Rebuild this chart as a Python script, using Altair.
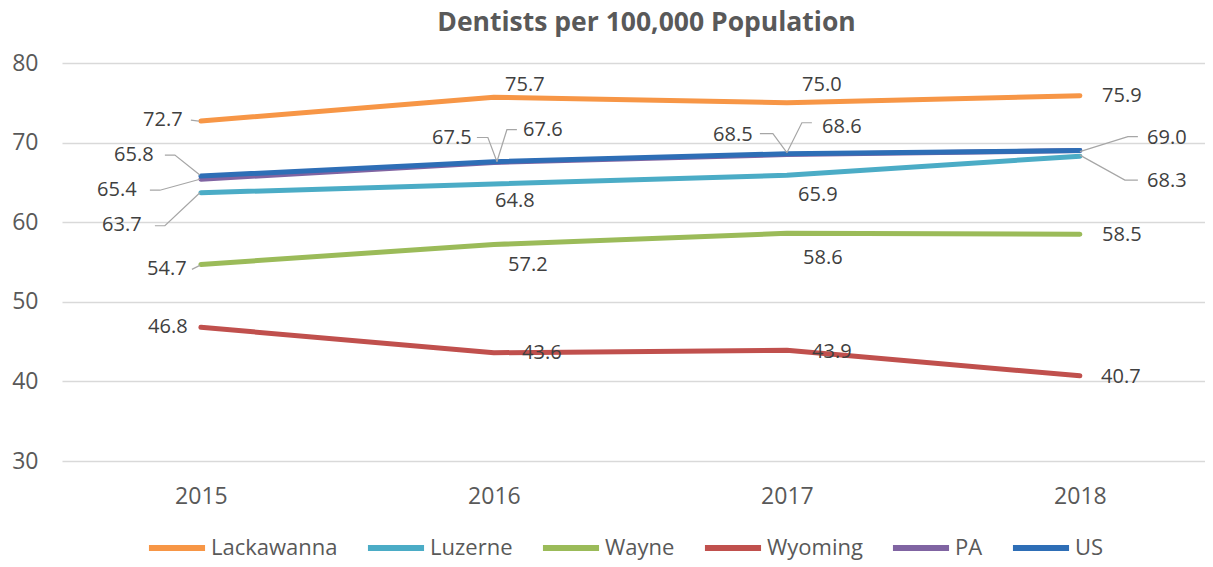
import altair as alt
import pandas as pd

# ---------------- data ----------------
years = [2015, 2016, 2017, 2018]
series_names = ["Lackawanna", "Luzerne", "Wayne", "Wyoming", "PA", "US"]
lackawanna = [72.7, 75.7, 75.0, 75.9]
luzerne = [63.7, 64.8, 65.9, 68.3]
wayne = [54.7, 57.2, 58.6, 58.5]
wyoming = [46.8, 43.6, 43.9, 40.7]
pa = [65.4, 67.5, 68.5, 69.0]
us = [65.8, 67.6, 68.6, 69.0]
y_ticks = [30, 40, 50, 60, 70, 80]
title_text = "Dentists per 100,000 Population"

# ---------------- styling ----------------
colors = ["#F79646", "#4BACC6", "#9BBB59", "#C0504D", "#8064A2", "#2E6EB6"]
FONT = "Open Sans"
W, H = 1143, 398
X_DOMAIN = [2014.526, 2018.427]
Y_DOMAIN = [30, 80]
PX_X = W / (X_DOMAIN[1] - X_DOMAIN[0])
PX_Y = H / (Y_DOMAIN[1] - Y_DOMAIN[0])

# data-label placement: pixel offsets of each label from its point (None = hidden)
label_offsets = {
    "Lackawanna": [(-38, -1), (31, -12), (35, -18), (42, 0)],
    "Luzerne": [(-79, 32), (21, 17), (31, 20), (87, 25)],
    "Wayne": [(-34, 5), (34, 21), (36, 25), (42, 1)],
    "Wyoming": [(-33, 0), (48, 0), (45, 2), (41, 1)],
    "PA": [(-84, 11), (-42, -25), (-54, -20), None],
    "US": [(-67, -21), (49, -32), (55, -27), (87, -13)],
}
# leader lines: pixel offsets from the point
leaders = {
    ("Lackawanna", 2015): [(-10, -1), (-2, 0)],
    ("Luzerne", 2015): [(-46, 33), (-36, 33), (-1, 0)],
    ("Luzerne", 2018): [(0, -1), (45, 24), (58, 24)],
    ("Wayne", 2015): [(-9, 5), (-1, 1)],
    ("PA", 2015): [(-51, 11), (-41, 11), (-1, 0)],
    ("PA", 2016): [(-17, -25), (-6, -25), (3, -1)],
    ("PA", 2017): [(-27, -21), (-14, -21), (0, -2)],
    ("US", 2015): [(-36, -21), (-26, -21), (-1, -1)],
    ("US", 2016): [(3, 0), (13, -32), (23, -32)],
    ("US", 2017): [(0, -1), (15, -31), (25, -31)],
    ("US", 2018): [(0, 1), (48, -14), (58, -14)],
}

values = dict(zip(series_names, [lackawanna, luzerne, wayne, wyoming, pa, us]))

rows, lab_rows, lead_rows = [], [], []
for s in series_names:
    for i, yr in enumerate(years):
        v = values[s][i]
        rows.append({"series": s, "x": yr, "y": v})
        off = label_offsets[s][i]
        if off is not None:
            lab_rows.append({"series": s, "x": yr + off[0] / PX_X,
                             "y": v - off[1] / PX_Y, "text": f"{v:.1f}"})
        if (s, yr) in leaders:
            for k, (dx, dy) in enumerate(leaders[(s, yr)]):
                lead_rows.append({"lid": f"{s}-{yr}", "k": k,
                                  "x": yr + dx / PX_X, "y": v - dy / PX_Y})

df = pd.DataFrame(rows)
df_lab = pd.DataFrame(lab_rows)
df_lead = pd.DataFrame(lead_rows)

x_enc = alt.X("x:Q", scale=alt.Scale(domain=X_DOMAIN, nice=False, zero=False),
              axis=alt.Axis(values=years, format="d", grid=False, domain=False,
                            ticks=False, tickSize=0, labelPadding=24,
                            labelFontSize=23, labelColor="#595959", labelFont=FONT),
              title=None)
y_enc = alt.Y("y:Q", scale=alt.Scale(domain=Y_DOMAIN, nice=False, zero=False),
              axis=alt.Axis(values=y_ticks, grid=True, gridColor="#D9D9D9",
                            gridWidth=1.3, domain=False, ticks=False, tickSize=0,
                            labelPadding=24, labelFontSize=23,
                            labelColor="#595959", labelFont=FONT),
              title=None)
# wide, flat legend line symbol (custom path wider than its layout box)
color_enc = alt.Color("series:N", scale=alt.Scale(domain=series_names, range=colors),
                      legend=alt.Legend(orient="none", legendX=101, legendY=471,
                                        direction="horizontal", title=None,
                                        symbolType="M-2.55,0H2.55", symbolSize=484,
                                        symbolStrokeWidth=6, labelFontSize=22,
                                        labelFont=FONT, labelColor="#595959",
                                        columnPadding=17, labelOffset=20,
                                        labelLimit=300))

layers = []
for s in series_names:
    layers.append(
        alt.Chart(df).transform_filter(alt.datum.series == s)
        .mark_line(strokeWidth=5, strokeCap="round", strokeJoin="round")
        .encode(x=x_enc, y=y_enc, color=color_enc)
    )

lead_layer = alt.Chart(df_lead).mark_line(color="#A6A6A6", strokeWidth=1.2).encode(
    x=x_enc, y=y_enc, detail="lid:N", order="k:Q")
text_layer = alt.Chart(df_lab).mark_text(font=FONT, fontSize=20, color="#404040",
                                         align="center", baseline="middle").encode(
    x=x_enc, y=y_enc, text="text:N")

chart = alt.layer(*layers, lead_layer, text_layer).properties(
    width=W, height=H,
    title=alt.TitleParams(title_text, font=FONT, fontSize=26.5, fontWeight="bold",
                          color="#595959", anchor="middle", dx=13, offset=16),
    autosize=alt.AutoSizeParams(type="none"),
    padding={"left": 54, "top": 55, "right": 0, "bottom": 100},
).configure_view(stroke=None)

chart.save("out.html", embed_options={"renderer": "svg", "actions": False})
